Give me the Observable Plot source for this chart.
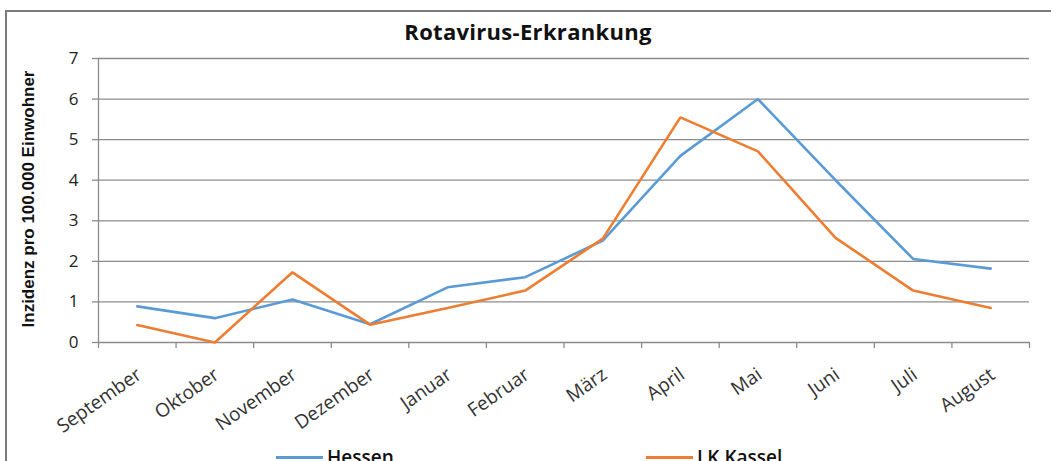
<!DOCTYPE html>
<html>
<head>
<meta charset="utf-8">
<script src="https://cdn.jsdelivr.net/npm/d3@7"></script>
<script src="https://cdn.jsdelivr.net/npm/@observablehq/plot@0.6"></script>
<style>
  html, body { margin: 0; padding: 0; background: #fff; overflow: hidden; }
  #wrap { position: relative; width: 1051px; height: 461px; overflow: hidden; font-family: "Open Sans", sans-serif; }
  #frame { position: absolute; left: 5px; top: 10px; width: 1100px; height: 500px; border-left: 2px solid #7a7a7a; border-top: 2px solid #7a7a7a; box-sizing: border-box; }
  #title { position: absolute; left: 0; width: 1056px; top: 16px; text-align: center; font-weight: 700; font-size: 22px; letter-spacing: 0.3px; color: #111; }
  #chart { position: absolute; left: 0; top: 0; }
  .leg { position: absolute; top: 444px; display: flex; align-items: center; font-size: 19px; font-weight: 600; color: #111; }
  .leg span.sw { display: inline-block; width: 47px; height: 3px; margin-right: 4px; }
</style>
</head>
<body>
<div id="wrap">
  <div id="frame"></div>
  <div id="chart"></div>
  <div id="title"></div>
  <div class="leg" id="leg1" style="left:276px"><span class="sw" style="background:#5B9BD5"></span><span class="lt"></span></div>
  <div class="leg" id="leg2" style="left:646px"><span class="sw" style="background:#ED7D31"></span><span class="lt"></span></div>
</div>
<script>
const titleText = "Rotavirus-Erkrankung";
const yLabel = "Inzidenz pro 100.000 Einwohner";
const months = ["September","Oktober","November","Dezember","Januar","Februar","März","April","Mai","Juni","Juli","August"];
const seriesNames = ["Hessen","LK Kassel"];
const hessen = [0.89, 0.60, 1.06, 0.45, 1.36, 1.61, 2.51, 4.60, 6.00, 4.00, 2.06, 1.82];
const kassel = [0.43, 0.00, 1.73, 0.44, 0.85, 1.28, 2.56, 5.55, 4.71, 2.58, 1.28, 0.85];
const yTicks = [0,1,2,3,4,5,6,7];
const colors = ["#5B9BD5", "#ED7D31"];

const data = [];
months.forEach((m, i) => {
  data.push({i, month: m, series: seriesNames[0], value: hessen[i]});
  data.push({i, month: m, series: seriesNames[1], value: kassel[i]});
});
const boundaries = d3.range(months.length + 1).map(k => k - 0.5);
const gridColor = "#8c8c8c";

const plot = Plot.plot({
  width: 1051,
  height: 440,
  marginLeft: 98,
  marginRight: 22,
  marginTop: 58,
  marginBottom: 98,
  style: {fontFamily: "Open Sans, sans-serif", background: "transparent", overflow: "visible"},
  x: {type: "linear", domain: [-0.5, months.length - 0.5]},
  y: {domain: [0, 7]},
  color: {domain: seriesNames, range: colors},
  marks: [
    Plot.gridY(yTicks, {stroke: gridColor, strokeOpacity: 1, strokeWidth: 1.3}),
    Plot.axisY(yTicks, {tickSize: 6, tickPadding: 14, stroke: gridColor, strokeWidth: 1.3, fontSize: 17, color: "#222", label: null, tickFormat: d => String(d)}),
    Plot.ruleX([-0.5], {y1: 0, y2: 7, stroke: gridColor, strokeWidth: 1.3}),
    Plot.axisX(boundaries, {tickSize: 6, stroke: gridColor, strokeWidth: 1.3, tickFormat: () => "", label: null}),
    Plot.text(months, {x: (d, k) => k, frameAnchor: "bottom", dy: 30, dx: 2, rotate: -35, textAnchor: "end", lineAnchor: "middle", fontSize: 19, fill: "#333"}),
    Plot.text([yLabel], {frameAnchor: "left", rotate: -90, dx: -70, dy: -1.5, textAnchor: "middle", fontFamily: "Liberation Sans, Arial, sans-serif", fontWeight: "bold", fontSize: 17, fill: "#111"}),
    Plot.line(data, {x: "i", y: "value", z: "series", stroke: "series", strokeWidth: 2.6, strokeLinejoin: "miter"})
  ]
});
document.getElementById("chart").appendChild(plot);
document.getElementById("title").textContent = titleText;
document.querySelector("#leg1 .lt").textContent = seriesNames[0];
document.querySelector("#leg2 .lt").textContent = seriesNames[1];
</script>
</body>
</html>
